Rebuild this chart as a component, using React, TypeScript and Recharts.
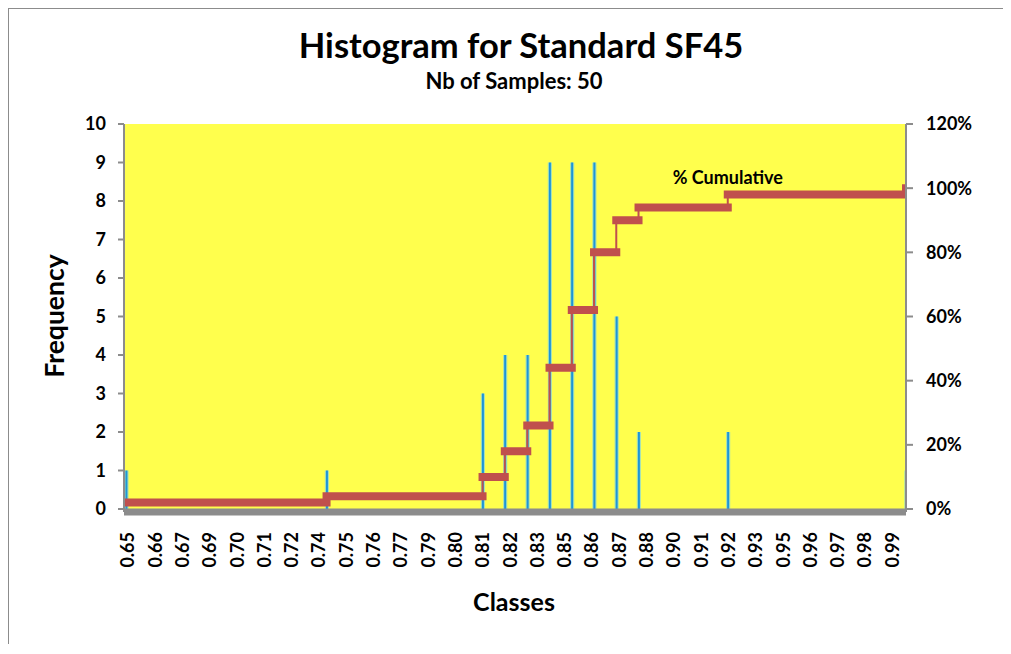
import React from 'react';
import {
  ComposedChart,
  Bar,
  Line,
  XAxis,
  YAxis,
  CartesianGrid,
  ReferenceDot
} from 'recharts';

// histogram classes (bin centres) and counts
const classes = [
  0.65, 0.6597, 0.6694, 0.6791, 0.6889, 0.6986, 0.7083, 0.718, 0.7277, 0.7374,
  0.7471, 0.7569, 0.7666, 0.7763, 0.786, 0.7957, 0.8054, 0.8151, 0.8249, 0.8346,
  0.8443, 0.854, 0.8637, 0.8734, 0.8831, 0.8929, 0.9026, 0.9123, 0.922, 0.9317,
  0.9414, 0.9511, 0.9609, 0.9706, 0.9803, 0.99
];
const frequency = [
  1, 0, 0, 0, 0, 0, 0, 0, 0, 1,
  0, 0, 0, 0, 0, 0, 3, 4, 4, 9,
  9, 9, 5, 2, 0, 0, 0, 2, 0, 0,
  0, 0, 0, 0, 0, 1
];

// cumulative % steps (at the classes that hold samples)
const stepClasses = [0.65, 0.7374, 0.8054, 0.8151, 0.8249, 0.8346, 0.8443, 0.854, 0.8637, 0.8734, 0.9123, 0.99];
const cumulativePct = [2, 4, 10, 18, 26, 44, 62, 80, 90, 94, 98, 100];

const xTickLabels = [
  '0.65', '0.66', '0.67', '0.69', '0.70', '0.71', '0.72', '0.74', '0.75', '0.76',
  '0.77', '0.79', '0.80', '0.81', '0.82', '0.83', '0.85', '0.86', '0.87', '0.88',
  '0.90', '0.91', '0.92', '0.93', '0.95', '0.96', '0.97', '0.98', '0.99'
];
const freqTicks = [0, 1, 2, 3, 4, 5, 6, 7, 8, 9, 10];
const pctTicks = [0, 20, 40, 60, 80, 100, 120];

const histData = classes.map((x, i) => ({ x, freq: frequency[i] }));
const stepData = stepClasses.map((x, i) => ({ x, cum: cumulativePct[i] }));
const segData: { x: number; seg: number | null }[] = [];
stepClasses.forEach((x, i) => {
  const next = i + 1 < stepClasses.length ? stepClasses[i + 1] : x;
  segData.push({ x, seg: cumulativePct[i] }, { x: next, seg: cumulativePct[i] }, { x: next, seg: null });
});

// labels are spread evenly, a bit tighter than the classes
const xTicks = xTickLabels.map((_, i) => 0.6508 + i * 0.0119);

const FONT = 'Lato, "Open Sans", sans-serif';
const RED = '#c0504d';
const GREY = '#8c8c8c';

const ClassTick = (props: any) => {
  const { x, y, payload } = props;
  const i = xTicks.indexOf(payload.value);
  return (
    <g transform={`translate(${x},${y})`}>
      <text
        transform="rotate(-90)"
        x={-20}
        dy="0.36em"
        textAnchor="end"
        fill="#000"
        fontSize={18}
        fontWeight={700}
        fontFamily={FONT}
      >
        {xTickLabels[i]}
      </text>
    </g>
  );
};

const ThinBar = (props: any) => {
  const { x, y, width, height } = props;
  if (!height) return null;
  return (
    <g>
      <rect x={x - 0.6} y={y} width={width + 1.2} height={height} fill="#a8e2b4" />
      <rect x={x + 0.5} y={y} width={width - 1} height={height} fill="#1e95d8" />
    </g>
  );
};

const tickStyle = { fill: '#000', fontSize: 18, fontWeight: 700, fontFamily: FONT };

export default function App() {
  return (
    <div
      style={{
        position: 'relative',
        width: 995,
        height: 636,
        overflow: 'hidden',
        borderTop: `1px solid ${GREY}`,
        borderLeft: `1px solid ${GREY}`,
        boxSizing: 'border-box',
        fontFamily: FONT,
        fontWeight: 700,
        color: '#000'
      }}
    >
      <div style={{ position: 'absolute', left: 0, width: 1024, top: 19, textAlign: 'center', fontSize: 34.5, lineHeight: 1 }}>
        Histogram for Standard SF45
      </div>
      <div style={{ position: 'absolute', left: 0, width: 1010, top: 61, textAlign: 'center', fontSize: 22, lineHeight: 1 }}>
        Nb of Samples: 50
      </div>
      <div
        style={{
          position: 'absolute',
          left: 45,
          top: 307,
          fontSize: 26.5,
          lineHeight: 1,
          transform: 'translate(-50%, -50%) rotate(-90deg)',
          whiteSpace: 'nowrap'
        }}
      >
        Frequency
      </div>
      <div
        style={{
          position: 'absolute',
          left: 505,
          top: 592,
          fontSize: 25,
          lineHeight: 1,
          transform: 'translate(-50%, -50%)',
          whiteSpace: 'nowrap'
        }}
      >
        Classes
      </div>
      <ComposedChart
        width={998}
        height={640}
        data={histData}
        margin={{ top: 115, right: 21, bottom: 67, left: 55 }}
      >
        <CartesianGrid yAxisId="freq" fill="#ffff4d" horizontal={false} vertical={false} />
        <XAxis
          type="number"
          dataKey="x"
          domain={[0.6491, 0.99]}
          allowDataOverflow
          ticks={xTicks}
          interval={0}
          tick={<ClassTick />}
          tickLine={false}
          tickSize={0}
          tickMargin={0}
          height={70}
          axisLine={{ stroke: GREY, strokeWidth: 7 }}
        />
        <YAxis
          yAxisId="freq"
          orientation="left"
          domain={[0, 10]}
          ticks={freqTicks}
          interval={0}
          width={60}
          padding={{ top: 0, bottom: 3 }}
          axisLine={{ stroke: GREY, strokeWidth: 2 }}
          tickLine={{ stroke: GREY, strokeWidth: 2 }}
          tickSize={6}
          tickMargin={12}
          tick={tickStyle}
        />
        <YAxis
          yAxisId="pct"
          orientation="right"
          domain={[0, 120]}
          ticks={pctTicks}
          interval={0}
          width={80}
          padding={{ top: 0, bottom: 3 }}
          tickFormatter={(v: number) => `${v}%`}
          axisLine={{ stroke: GREY, strokeWidth: 2 }}
          tickLine={{ stroke: GREY, strokeWidth: 2 }}
          tickSize={7}
          tickMargin={13}
          tick={{ ...tickStyle, textAnchor: 'start' }}
        />
        <Bar
          yAxisId="freq"
          dataKey="freq"
          barSize={3}
          shape={<ThinBar />}
          isAnimationActive={false}
        />
        <Line
          yAxisId="pct"
          data={stepData}
          dataKey="cum"
          type="stepAfter"
          stroke={RED}
          strokeWidth={2}
          dot={false}
          activeDot={false}
          isAnimationActive={false}
        />
        <Line
          yAxisId="pct"
          data={segData}
          dataKey="seg"
          type="linear"
          stroke={RED}
          strokeWidth={8}
          strokeLinecap="square"
          dot={false}
          activeDot={false}
          connectNulls={false}
          isAnimationActive={false}
        />
        <ReferenceDot
          yAxisId="pct"
          x={0.9123}
          y={98}
          r={0}
          fill="none"
          stroke="none"
          label={{ value: '% Cumulative', position: 'top', offset: 11, fill: '#000', fontSize: 18, fontWeight: 700, fontFamily: FONT }}
        />
      </ComposedChart>
    </div>
  );
}
